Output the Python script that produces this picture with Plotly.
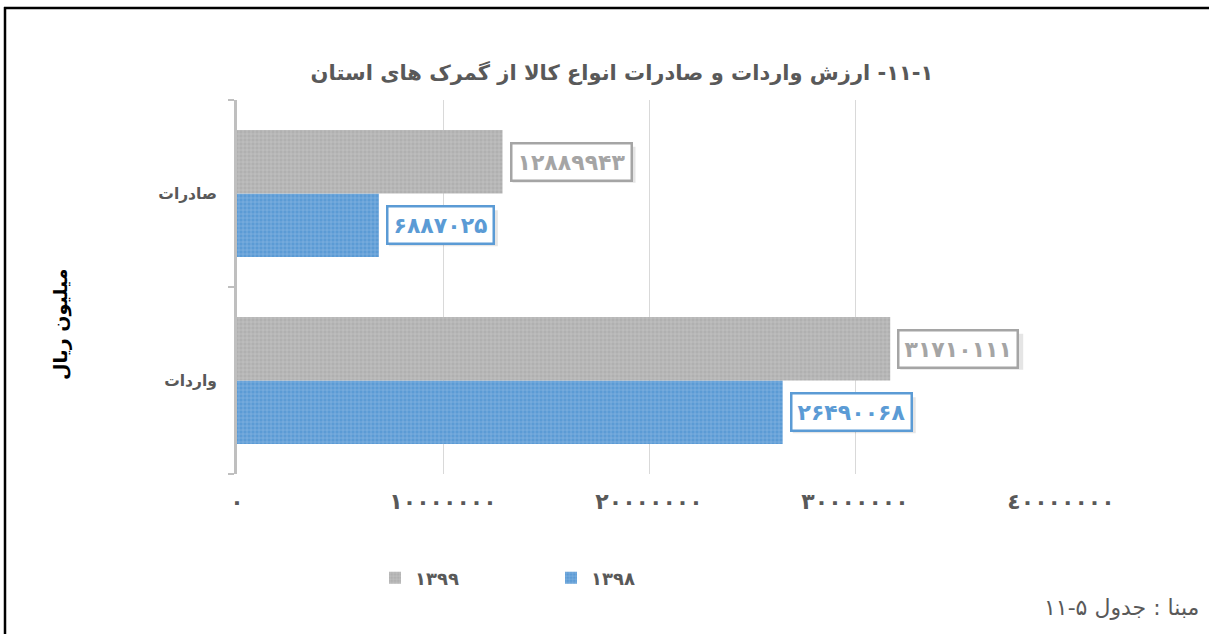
import plotly.graph_objects as go

# ---------------- data ----------------
categories = ['صادرات', 'واردات']
series_names = ['۱۳۹۸', '۱۳۹۹']
values_1398 = [6887025, 26490068]
values_1399 = [12889943, 31710111]
tick_values = [0, 10000000, 20000000, 30000000, 40000000]
tick_labels = ['۰', '۱۰۰۰۰۰۰۰', '۲۰۰۰۰۰۰۰', '۳۰۰۰۰۰۰۰', '٤۰۰۰۰۰۰۰']

title_text = '\u200F۱۱-۱- ارزش واردات و صادرات انواع کالا از گمرک های استان\u200F'
y_title = 'میلیون ریال'
footer_text = '\u200Fمبنا : جدول ۵-۱۱\u200F'

# ---------------- style ----------------
W, H = 1209, 634
L, R, T, B = 237, 148, 100, 160
PW, PH = W - L - R, H - T - B
FONT = 'DejaVu Sans'
GRAY_TXT = '#595959'
BLUE = '#5b9bd5'
GRAY = '#a5a5a5'
BARGAP = 0.32

fa_digits = str.maketrans('0123456789', '۰۱۲۳۴۵۶۷۸۹')


def fa(n):
    return str(n).translate(fa_digits)


def px_x(p):
    return (p - L) / PW


def px_y(p):
    return (H - B - p) / PH


cat_order = categories[::-1]  # bottom -> top

fig = go.Figure()
fig.add_trace(go.Bar(
    y=categories, x=values_1398, name=series_names[0], orientation='h',
    marker=dict(color=BLUE, line=dict(width=0),
                pattern=dict(shape='+', size=4, solidity=0.3, fgcolor='#b4d2ee')),
))
fig.add_trace(go.Bar(
    y=categories, x=values_1399, name=series_names[1], orientation='h',
    marker=dict(color='#b0b0b0', line=dict(width=0),
                pattern=dict(shape='+', size=4, solidity=0.3, fgcolor='#dcdcdc')),
))

band_px = PH / len(categories)
bar_shift = (1 - BARGAP) * band_px / 4

annotations = []
shapes = []
for vals, col, sgn in [(values_1398, BLUE, -1), (values_1399, GRAY, 1)]:
    for cat, v in zip(categories, vals):
        box_w = 123 - (8 - len(str(v))) * 14
        # soft drop shadow behind the label box
        shapes.append(dict(
            type='rect', xref='x', yref='y', xsizemode='pixel', ysizemode='pixel',
            xanchor=v, yanchor=cat_order.index(cat),
            x0=10, x1=10 + box_w, y0=sgn * bar_shift - 3 - 18, y1=sgn * bar_shift - 3 + 18,
            fillcolor='rgba(0,0,0,0.10)', line=dict(width=0), layer='above'))
        annotations.append(dict(
            x=v, y=cat, xref='x', yref='y', xanchor='left', yanchor='middle',
            xshift=7, yshift=sgn * bar_shift, showarrow=False,
            text=fa(v), font=dict(family=FONT, size=22, color=col, weight='bold'),
            bgcolor='white', borderpad=5, borderwidth=2.5, bordercolor=col))

annotations.append(dict(
    x=px_x(60), y=px_y(325), xref='paper', yref='paper', showarrow=False,
    text=y_title, textangle=-90, xanchor='center', yanchor='middle',
    font=dict(family=FONT, size=19, color='black', weight='bold')))
annotations.append(dict(
    x=px_x(1201), y=px_y(607), xref='paper', yref='paper', showarrow=False,
    text=footer_text, xanchor='right', yanchor='middle',
    font=dict(family=FONT, size=22, color=GRAY_TXT)))

shapes += [
    dict(type='line', xref='paper', yref='paper', x0=px_x(4), x1=px_x(1209),
         y0=px_y(8), y1=px_y(8), line=dict(color='black', width=2.5)),
    dict(type='line', xref='paper', yref='paper', x0=px_x(5), x1=px_x(5),
         y0=px_y(7), y1=px_y(634), line=dict(color='black', width=2.5)),
]

fig.update_layout(
    width=W, height=H,
    margin=dict(l=L, r=R, t=T, b=B, autoexpand=False),
    paper_bgcolor='white', plot_bgcolor='white',
    barmode='group', bargap=BARGAP, bargroupgap=0,
    title=dict(text=title_text, x=px_x(622), xref='paper', xanchor='center',
               y=1 - 73 / H, yanchor='middle',
               font=dict(family=FONT, size=21, color=GRAY_TXT, weight='bold')),
    xaxis=dict(range=[0, 40000000], tickvals=tick_values, ticktext=tick_labels,
               showgrid=True, gridcolor='#d9d9d9', gridwidth=1, zeroline=False,
               showline=False, ticks='', ticklabelstandoff=12, automargin=False,
               tickfont=dict(family=FONT, size=22, color=GRAY_TXT, weight='bold')),
    yaxis=dict(categoryorder='array', categoryarray=cat_order,
               showline=True, linecolor='#bfbfbf', linewidth=3, automargin=False,
               ticks='outside', tickson='boundaries', ticklen=6, tickcolor='#bfbfbf',
               tickwidth=2, showgrid=False, ticklabelstandoff=14,
               tickfont=dict(family=FONT, size=15.5, color=GRAY_TXT, weight='bold')),
    legend=dict(orientation='h', traceorder='reversed', x=px_x(375), y=px_y(578),
                xanchor='left', yanchor='middle', entrywidth=131, entrywidthmode='pixels',
                font=dict(family=FONT, size=18, color=GRAY_TXT, weight='bold')),
    annotations=annotations,
    shapes=shapes,
)

fig.write_html('out.html', config={'displayModeBar': False},
               post_script="document.body.style.margin='0';document.body.style.overflow='hidden';")
